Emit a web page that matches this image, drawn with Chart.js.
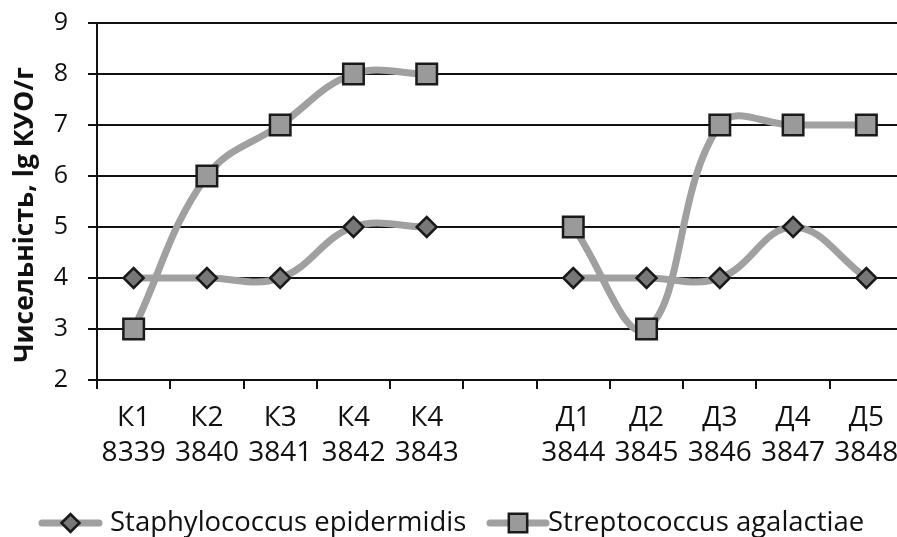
<!DOCTYPE html>
<html>
<head>
<meta charset="utf-8">
<script src="https://cdn.jsdelivr.net/npm/chart.js@4"></script>
<style>
  html, body { margin: 0; padding: 0; background: #fff; overflow: hidden; }
  #wrap { width: 903px; height: 537px; }
</style>
</head>
<body>
<div id="wrap"><canvas id="chart" width="903" height="537"></canvas></div>
<script>
// Data
const categories = [
  ['К1', '8339'], ['К2', '3840'], ['К3', '3841'], ['К4', '3842'], ['К4', '3843'],
  '',
  ['Д1', '3844'], ['Д2', '3845'], ['Д3', '3846'], ['Д4', '3847'], ['Д5', '3848']
];
const staphValues = [4, 4, 4, 5, 5, null, 4, 4, 4, 5, 4];
const streptValues = [3, 6, 7, 8, 8, null, 5, 3, 7, 7, 7];
const seriesNames = ['Staphylococcus epidermidis', 'Streptococcus agalactiae'];
const yTitle = 'Чисельність, lg КУО/г';

const FONT = "'Open Sans', sans-serif";
const LINE = '#a0a0a0';

// y title drawn by hand so it can sit a bit lower, like the original
const yTitlePlugin = {
  id: 'yTitlePlugin',
  afterDraw(chart) {
    const ctx = chart.ctx;
    ctx.save();
    ctx.translate(25, 215);
    ctx.rotate(-Math.PI / 2);
    ctx.fillStyle = '#111';
    ctx.font = 'bold 26.5px ' + FONT;
    ctx.textAlign = 'center';
    ctx.textBaseline = 'middle';
    ctx.fillText(yTitle, 0, 0);
    ctx.restore();
  }
};

// legend drawn as line + marker like the original
const lineLegend = {
  id: 'lineLegend',
  afterDraw(chart) {
    const ctx = chart.ctx;
    const y = 523;
    const items = [
      { x1: 42, x2: 99, tx: 110, ds: chart.data.datasets[0], r: 9 },
      { x1: 490, x2: 546, tx: 548, ds: chart.data.datasets[1], r: 13 }
    ];
    ctx.save();
    items.forEach(it => {
      ctx.strokeStyle = LINE;
      ctx.lineWidth = 7;
      ctx.lineCap = 'round';
      ctx.beginPath();
      ctx.moveTo(it.x1, y);
      ctx.lineTo(it.x2, y);
      ctx.stroke();
      ctx.fillStyle = it.ds.pointBackgroundColor;
      ctx.strokeStyle = it.ds.pointBorderColor;
      ctx.lineWidth = it.ds.pointBorderWidth;
      Chart.helpers.drawPoint(ctx, {
        pointStyle: it.ds.pointStyle,
        radius: it.r,
        borderWidth: it.ds.pointBorderWidth
      }, (it.x1 + it.x2) / 2, y);
      ctx.fillStyle = '#111';
      ctx.font = '27.5px ' + FONT;
      ctx.textBaseline = 'middle';
      ctx.textAlign = 'left';
      ctx.fillText(it.ds.label, it.tx, y);
    });
    ctx.restore();
  }
};

const ctx = document.getElementById('chart').getContext('2d');
new Chart(ctx, {
  type: 'line',
  data: {
    labels: categories,
    datasets: [
      {
        label: seriesNames[0],
        data: staphValues,
        borderColor: LINE,
        borderWidth: 7,
        tension: 0.4,
        pointStyle: 'rectRot',
        pointRadius: 10,
        pointBackgroundColor: '#777777',
        pointBorderColor: '#1a1a1a',
        pointBorderWidth: 2.5
      },
      {
        label: seriesNames[1],
        data: streptValues,
        borderColor: LINE,
        borderWidth: 7,
        tension: 0.4,
        pointStyle: 'rect',
        pointRadius: 14.5,
        pointBackgroundColor: '#9a9a9a',
        pointBorderColor: '#1a1a1a',
        pointBorderWidth: 2.5
      }
    ]
  },
  options: {
    responsive: false,
    animation: false,
    spanGaps: false,
    layout: { autoPadding: false, padding: { top: 23, left: 8, right: 0, bottom: 60 } },
    plugins: {
      legend: { display: false },
      tooltip: { enabled: false }
    },
    scales: {
      x: {
        offset: true,
        afterFit(scale) {
          scale.height = 97;
          scale.paddingLeft = 0;
          scale.paddingRight = 0;
        },
        grid: {
          offset: true,
          drawOnChartArea: false,
          drawTicks: true,
          tickLength: 9,
          color: '#111',
          lineWidth: 2
        },
        border: { color: '#111', width: 2 },
        ticks: {
          color: '#111',
          padding: 12,
          maxRotation: 0,
          autoSkip: false,
          font: { family: FONT, size: 28, lineHeight: 1.25 }
        }
      },
      y: {
        min: 2,
        max: 9,
        afterFit(scale) {
          scale.width = 89;
          scale.paddingTop = 0;
          scale.paddingBottom = 0;
        },
        grid: { color: '#111', lineWidth: 2, tickLength: 9 },
        border: { color: '#111', width: 2 },
        ticks: {
          stepSize: 1,
          color: '#111',
          padding: 20,
          font: { family: FONT, size: 25 }
        }
      }
    }
  },
  plugins: [yTitlePlugin, lineLegend]
});
</script>
</body>
</html>
